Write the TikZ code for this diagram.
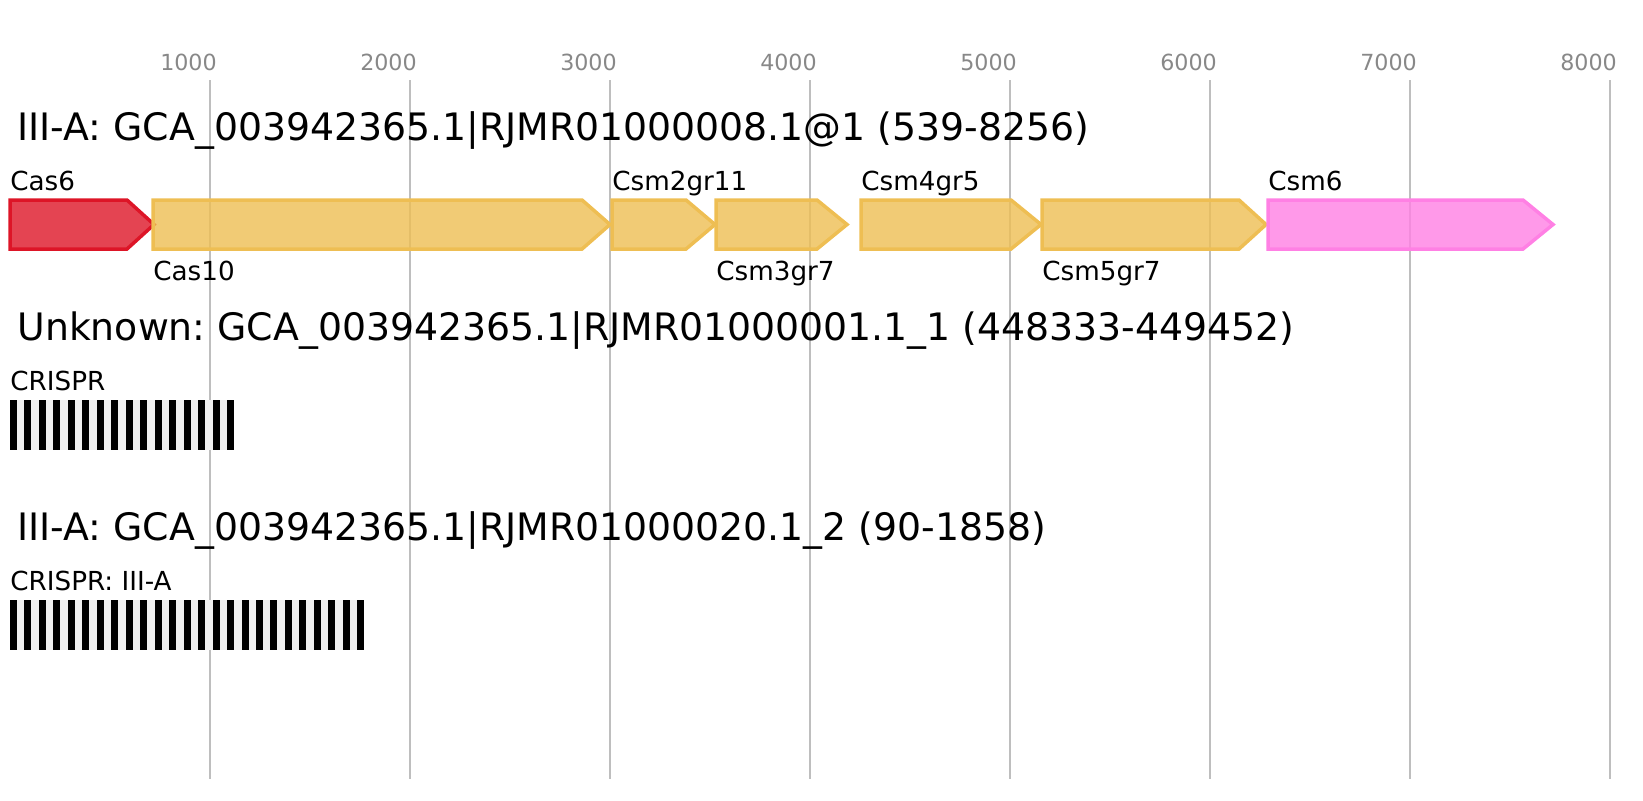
\documentclass[tikz,border=0pt]{standalone}
\usepackage{fontspec}
\setmainfont{DejaVu Sans}
\frenchspacing

\definecolor{gridgray}{RGB}{190,190,190}
\definecolor{ticktext}{RGB}{136,136,136}
\definecolor{casred}{RGB}{221,21,39}
\definecolor{casgold}{RGB}{238,190,83}
\definecolor{caspink}{RGB}{255,128,228}
\definecolor{spacergray}{RGB}{240,240,240}

\tikzset{
  gridline/.style={gridgray, line width=1pt},
  ticklabel/.style={ticktext, font=\fontsize{11.1}{13}\selectfont, anchor=base, inner sep=0pt},
  locustitle/.style={font=\fontsize{18.9}{22}\selectfont, anchor=base west, inner sep=0pt},
  genelabel/.style={font=\fontsize{13.1}{15}\selectfont, anchor=base west, inner sep=0pt},
  gene/.style={line width=1.75pt, line join=miter, fill opacity=0.8},
  redgene/.style={gene, draw=casred, fill=casred},
  goldgene/.style={gene, draw=casgold, fill=casgold},
  pinkgene/.style={gene, draw=caspink, fill=caspink},
  spacer/.style={fill=spacergray},
  repeatbar/.style={fill=black}
}

\begin{document}
\begin{tikzpicture}[x=0.5pt,y=-0.5pt]
	\useasboundingbox (0,0) rectangle (1643,800);

	% scale: 200 px per 1000 bp
	\foreach \k in {1,...,8} {
		\draw [gridline] ({9.7+200*\k},80) -- ({9.7+200*\k},778.5);
		\node [ticklabel] (tick\k) at ({-11.5+200*\k},70) {\k000};
	}

	% locus 1
	\node [locustitle] (title1) at (17,140) {III-A: GCA\_003942365.1|RJMR01000008.1@1 (539-8256)};

	\draw [redgene] (10,200) -- (127,200) -- (154,224.5) -- (127,249) -- (10,249) -- cycle;
	\draw [goldgene] (153,200) -- (582,200) -- (610,224.5) -- (582,249) -- (153,249) -- cycle;
	\draw [goldgene] (612,200) -- (686,200) -- (715,224.5) -- (686,249) -- (612,249) -- cycle;
	\draw [goldgene] (716,200) -- (817,200) -- (847,224.5) -- (817,249) -- (716,249) -- cycle;
	\draw [goldgene] (861,200) -- (1011,200) -- (1041,224.5) -- (1011,249) -- (861,249) -- cycle;
	\draw [goldgene] (1042,200) -- (1239,200) -- (1266,224.5) -- (1239,249) -- (1042,249) -- cycle;
	\draw [pinkgene] (1268,200) -- (1523,200) -- (1553,224.5) -- (1523,249) -- (1268,249) -- cycle;

	\node [genelabel] (lblcas6) at (10,190) {Cas6};
	\node [genelabel] (lblcas10) at (153,280) {Cas10};
	\node [genelabel] (lblcsm2) at (612,190) {Csm2gr11};
	\node [genelabel] (lblcsm3) at (716,280) {Csm3gr7};
	\node [genelabel] (lblcsm4) at (861,190) {Csm4gr5};
	\node [genelabel] (lblcsm5) at (1042,280) {Csm5gr7};
	\node [genelabel] (lblcsm6) at (1268,190) {Csm6};

	% locus 2
	\node [locustitle] (title2) at (17,340) {Unknown: GCA\_003942365.1|RJMR01000001.1\_1 (448333-449452)};
	\node [genelabel] (lblcrispr1) at (10,390) {CRISPR};
	\fill [spacer] (10,400) rectangle (234,450);
	\foreach \i in {0,...,15}
		\fill [repeatbar] ({10+14.47*\i},400) rectangle ++(7,50);

	% locus 3
	\node [locustitle] (title3) at (17,540) {III-A: GCA\_003942365.1|RJMR01000020.1\_2 (90-1858)};
	\node [genelabel] (lblcrispr2) at (10,590) {CRISPR: III-A};
	\fill [spacer] (10,600) rectangle (364,649.5);
	\foreach \i in {0,...,24}
		\fill [repeatbar] ({10+14.47*\i},600) rectangle ++(7,49.5);
\end{tikzpicture}
\end{document}
